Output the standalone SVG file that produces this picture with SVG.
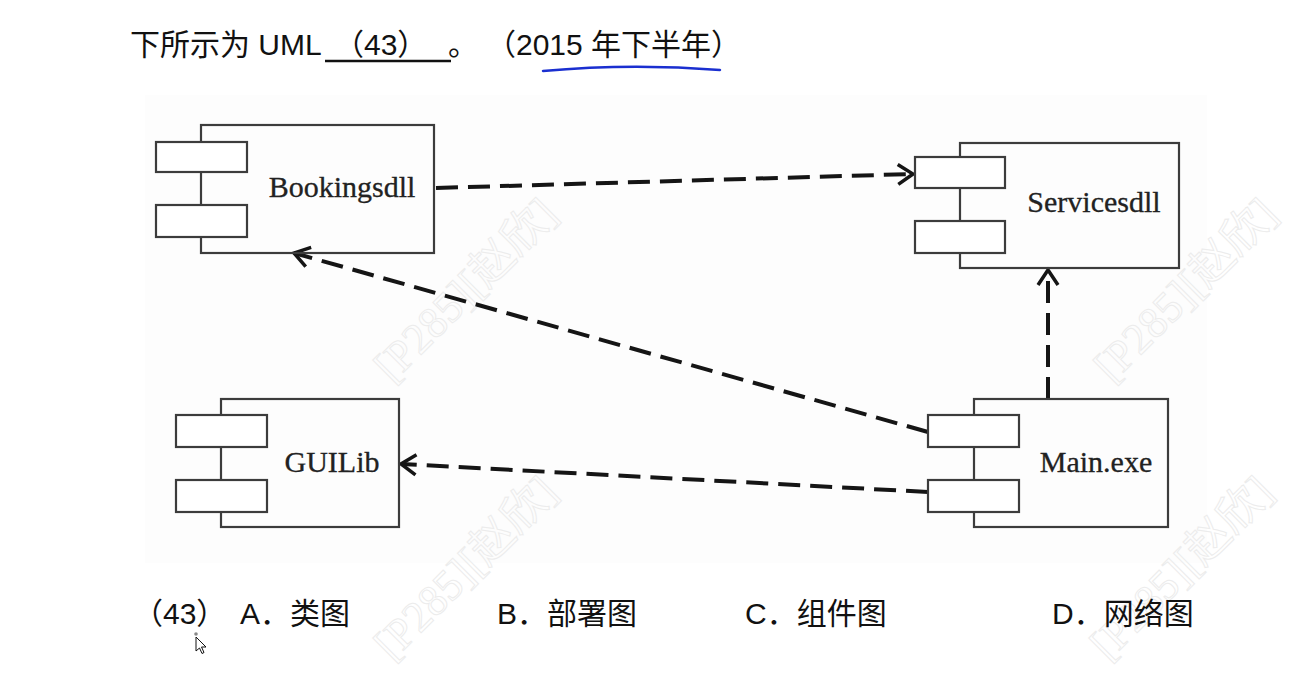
<svg xmlns="http://www.w3.org/2000/svg" width="1309" height="678" viewBox="0 0 1309 678">
<style>
.txt{font-family:"Liberation Sans","Noto Sans CJK SC",sans-serif;font-size:30px;fill:#111}
.lbl{font-family:"Liberation Serif","Times New Roman",serif;font-size:30px;fill:#222;stroke:#222;stroke-width:0.3}
.box{fill:none;stroke:#3c3c3c;stroke-width:2.2}
.port{fill:#fff;stroke:#3c3c3c;stroke-width:2.2}
.dep{fill:none;stroke:#151515;stroke-width:4;stroke-dasharray:22 10;marker-end:url(#open)}
.wm{font-family:"Liberation Serif","Noto Sans CJK SC",serif;font-size:44px;fill:none;stroke:#ececec;stroke-width:1}
</style>
<defs>
<marker id="open" viewBox="-20 -13 24 26" refX="0" refY="0" markerWidth="24" markerHeight="26" markerUnits="userSpaceOnUse" orient="auto">
<path d="M-15,-10 L0,0 L-15,10" fill="none" stroke="#151515" stroke-width="3.5" stroke-dasharray="none"/>
</marker>
</defs>
<rect width="1309" height="678" fill="#fff"/>
<rect x="145" y="95" width="1062" height="468" fill="#fdfdfd"/>

<g id="watermarks">
<text class="wm" transform="translate(392,384) rotate(-45)">[P285][赵欣]</text>
<text class="wm" transform="translate(1112,384) rotate(-45)">[P285][赵欣]</text>
<text class="wm" transform="translate(392,662) rotate(-45)">[P285][赵欣]</text>
<text class="wm" transform="translate(1108,662) rotate(-45)">[P285][赵欣]</text>
</g>

<g id="title">
<text class="txt" x="130" y="55">下所示为 UML</text>
<text class="txt" x="334" y="55">（43）</text>
<line x1="325" y1="61" x2="451" y2="61" stroke="#111" stroke-width="2.5"/>
<text class="txt" x="448" y="55">。</text>
<text class="txt" x="486" y="55">（2015 年下半年）</text>
<path d="M543,71 Q630,63 720,70" fill="none" stroke="#1a2fd0" stroke-width="2.5" stroke-linecap="round"/>
</g>

<g id="connectors">
<path class="dep" d="M436,188 L913,174"/>
<path class="dep" d="M928,432 L294,253"/>
<path class="dep" d="M1048,399 L1048,270"/>
<path class="dep" d="M928,492 L401,464"/>
</g>

<g id="bookingsdll">
<rect class="box" x="201" y="125" width="233" height="128"/>
<rect class="port" x="156" y="142" width="91" height="30"/>
<rect class="port" x="156" y="205" width="91" height="32"/>
<text class="lbl" x="342" y="197" text-anchor="middle">Bookingsdll</text>
</g>

<g id="servicesdll">
<rect class="box" x="960" y="143" width="219" height="125"/>
<rect class="port" x="915" y="157" width="90" height="31"/>
<rect class="port" x="915" y="221" width="90" height="32"/>
<text class="lbl" x="1094" y="212" text-anchor="middle">Servicesdll</text>
</g>

<g id="guilib">
<rect class="box" x="221" y="399" width="178" height="128"/>
<rect class="port" x="176" y="415" width="91" height="32"/>
<rect class="port" x="176" y="480" width="91" height="32"/>
<text class="lbl" x="332" y="472" text-anchor="middle">GUILib</text>
</g>

<g id="mainexe">
<rect class="box" x="974" y="399" width="194" height="128"/>
<rect class="port" x="928" y="415" width="91" height="32"/>
<rect class="port" x="928" y="480" width="91" height="32"/>
<text class="lbl" x="1096" y="472" text-anchor="middle">Main.exe</text>
</g>

<g id="options">
<text class="txt" x="133" y="624">（43）</text>
<text class="txt" x="240" y="624">A．类图</text>
<text class="txt" x="497" y="624">B．部署图</text>
<text class="txt" x="745" y="624">C．组件图</text>
<text class="txt" x="1052" y="624">D．网络图</text>
</g>

<g id="cursor">
<circle cx="196" cy="634" r="1.8" fill="#888"/>
<path d="M196,637 L196,651 L199.5,648 L202,653.5 L204,652.5 L201.5,647 L206,647 Z" fill="#fff" stroke="#111" stroke-width="1"/>
</g>
</svg>
